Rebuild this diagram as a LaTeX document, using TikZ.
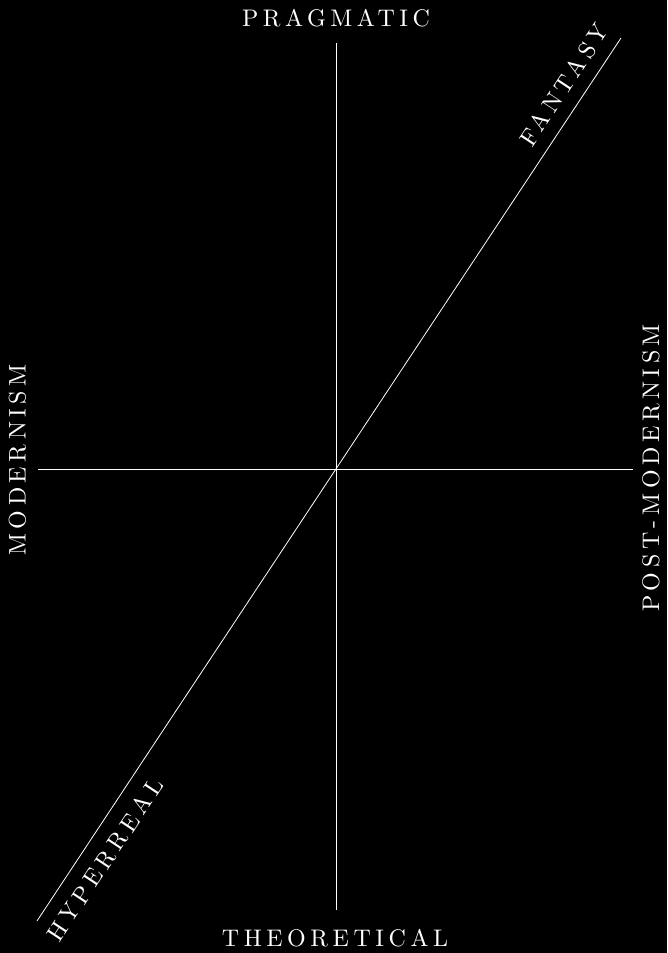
\documentclass[tikz,border=0pt]{standalone}
\usepackage{fontspec}
\newfontfamily\labelfont{lmroman10-regular.otf}[LetterSpace=19]
\tikzset{
  axisline/.style={white,line width=0.8pt},
  axislabel/.style={text=white,inner sep=0pt,
    font=\labelfont\fontsize{24}{24}\selectfont},
}
\begin{document}
\begin{tikzpicture}[x=1pt,y=1pt]
    \fill[black] (0,0) rectangle (667,953);
    \useasboundingbox (0,0) rectangle (667,953);
    % axes
    \coordinate (top) at (336,910);
    \coordinate (bottom) at (336,43);
    \coordinate (left) at (38,484);
    \coordinate (right) at (633,484);
    \coordinate (diagtop) at (621,915);
    \coordinate (diagbot) at (37,32);
    \draw[axisline] (top) -- (bottom);
    \draw[axisline] (left) -- (right);
    \draw[axisline] (diagbot) -- (diagtop);
    % labels
    \node[axislabel] (pragmatic) at (336,934.5) {PRAGMATIC};
    \node[axislabel] (theoretical) at (335,15) {THEORETICAL};
    \node[axislabel,rotate=90] (modernism) at (17.5,493) {MODERNISM};
    \node[axislabel,rotate=90] (postmodernism) at (651,485) {POST-MODERNISM};
    \node[axislabel,rotate=56.5] (fantasy) at (564,868) {FANTASY};
    \node[axislabel,rotate=56.5] (hyperreal) at (105,93) {HYPERREAL};
\end{tikzpicture}
\end{document}
